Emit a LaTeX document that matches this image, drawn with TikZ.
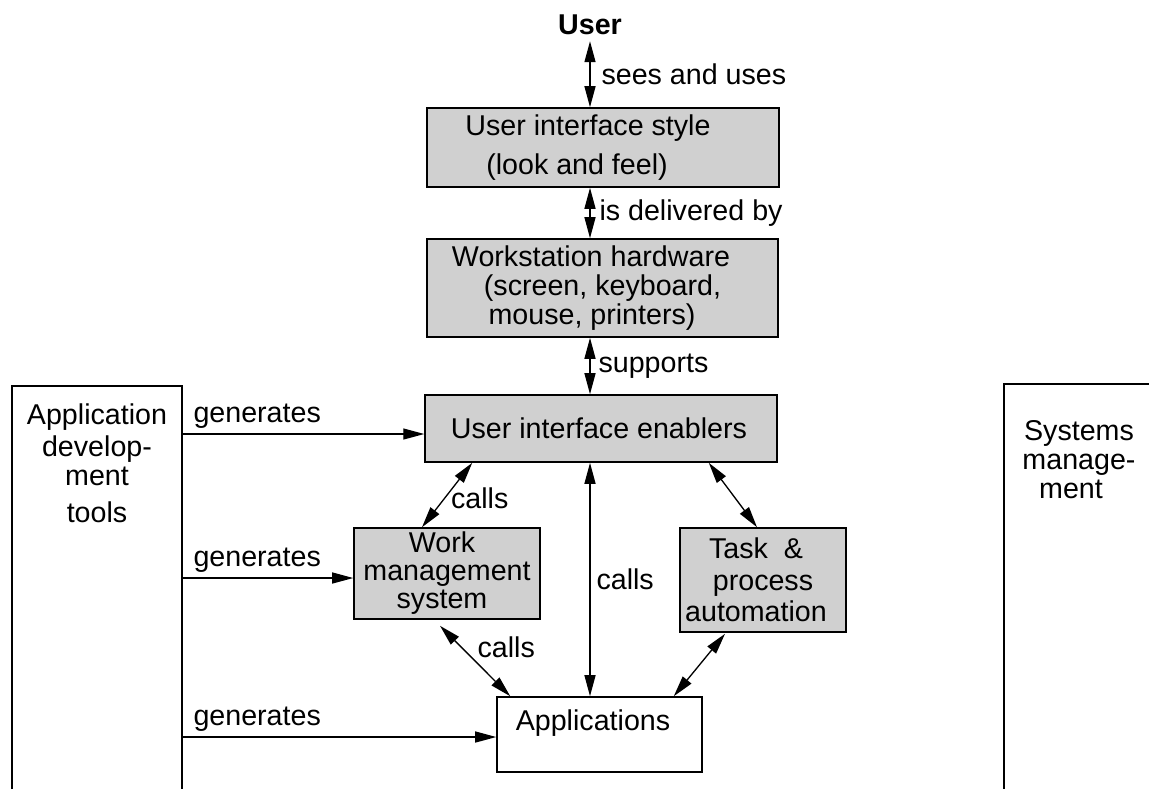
\documentclass[tikz,border=0pt]{standalone}
\usepackage{fontspec}
\setmainfont{Liberation Sans}
\usetikzlibrary{shapes,arrows.meta,positioning,calc}
\definecolor{boxgray}{RGB}{208,208,208}
\tikzstyle{block} = [rectangle, draw, line width=0.9pt, fill=boxgray, 
    align=center, inner sep=0pt]
\tikzstyle{plainblock} = [block, fill=white]
\tikzstyle{link} = [{Triangle[length=0.42cm,width=0.22cm]}-{Triangle[length=0.42cm,width=0.22cm]}, line width=0.75pt]
\tikzstyle{feed} = [-{Triangle[length=0.42cm,width=0.22cm]}, line width=0.75pt]
\tikzstyle{every node}=[font=\fontsize{16.3}{16.5}\selectfont]

\begin{document}
\begin{tikzpicture}[x=0.02cm, y=-0.02cm]
	\useasboundingbox (0,0) rectangle (1149,789);

	% Place nodes
	\node[font=\fontsize{16.3}{16.5}\selectfont\bfseries] (user) at (590,25) {User};
	\node[block, minimum width=7.04cm, minimum height=1.58cm] (uistyle) at (603,147.5)
		{User interface style\hspace*{0.6cm}\\[0.2cm](look and feel)\hspace*{1.04cm}};
	\node[block, minimum width=7.02cm, minimum height=1.96cm] (hardware) at (602.5,288)
		{Workstation hardware\hspace*{0.46cm}\\(screen, keyboard,\hspace*{0.54cm}\\mouse, printers)\hspace*{0.42cm}};
	\node[block, minimum width=7.04cm, minimum height=1.34cm] (enablers) at (601,428.5)
		{User interface enablers\hspace*{0.08cm}};
	\node[block, minimum width=3.72cm, minimum height=1.82cm] (workmgmt) at (447,573.5)
		{Work\hspace*{0.2cm}\\[-0.6pt]management\\[-0.6pt]system\hspace*{0.2cm}};
	\node[block, minimum width=3.32cm, minimum height=2.08cm] (taskauto) at (763,580)
		{Task\ \ \&\hspace*{0.28cm}\\[1.4pt]process\hspace*{0.28cm}\\[1.4pt]automation\hspace*{0.28cm}};
	\node[plainblock, minimum width=4.1cm, minimum height=1.5cm] (apps) at (599.5,734.5)
		{Applications\hspace*{0.26cm}\\\mbox{}};

	% side columns, open at the bottom
	\draw[line width=0.9pt] (12,789) -- (12,386) -- (182,386) -- (182,789);
	\node[align=center] (devtools) at (97,463) {Application\\[0.06cm]develop-\\ment\\[0.16cm]tools};
	\draw[line width=0.9pt] (1149,384) -- (1004,384) -- (1004,789);
	\node[align=center] (sysmgmt) at (1079,460) {Systems\\manage-\\ment\hspace*{0.32cm}};

	% vertical chain
	\draw[link] (user.south) -- (user.south |- uistyle.north) node[right, midway, xshift=0.1cm] {sees and uses};
	\draw[link] (uistyle.south -| user) -- (hardware.north -| user) node[right, midway, xshift=0.06cm] {is delivered by};
	\draw[link] (hardware.south -| user) -- (enablers.north -| user) node[right, midway, xshift=0.04cm] {supports};

	% generated by the tools
	\coordinate (gen1) at (182,434);
	\coordinate (gen2) at (182,578);
	\coordinate (gen3) at (182,737);
	\draw[feed] (gen1) -- (gen1 -| enablers.west) node[pos=0, above right, inner ysep=3pt, xshift=0.1cm] {generates};
	\draw[feed] (gen2) -- (gen2 -| workmgmt.west) node[pos=0, above right, inner ysep=3pt, xshift=0.1cm] {generates};
	\draw[feed] (gen3) -- (gen3 -| apps.west) node[pos=0, above right, inner ysep=3pt, xshift=0.1cm] {generates};

	% calls
	\draw[link] ([xshift=0.96cm]enablers.south west) -- ([xshift=-0.5cm]workmgmt.north)
		node[right, pos=0.55] {calls};
	\draw[link] ([xshift=-0.14cm, yshift=-0.12cm]workmgmt.south) -- ([xshift=0.28cm]apps.north west)
		node[right, pos=0.3, xshift=0.2cm] {calls};
	\draw[link] (enablers.south -| user) -- (apps.north -| user) node[right, midway] {calls};
	\draw[link] ([xshift=-1.38cm]enablers.south east) -- ([xshift=-0.12cm]taskauto.north);
	\draw[link] ([xshift=-0.76cm, yshift=-0.02cm]taskauto.south) -- ([xshift=-0.58cm]apps.north east);
\end{tikzpicture}
\end{document}
